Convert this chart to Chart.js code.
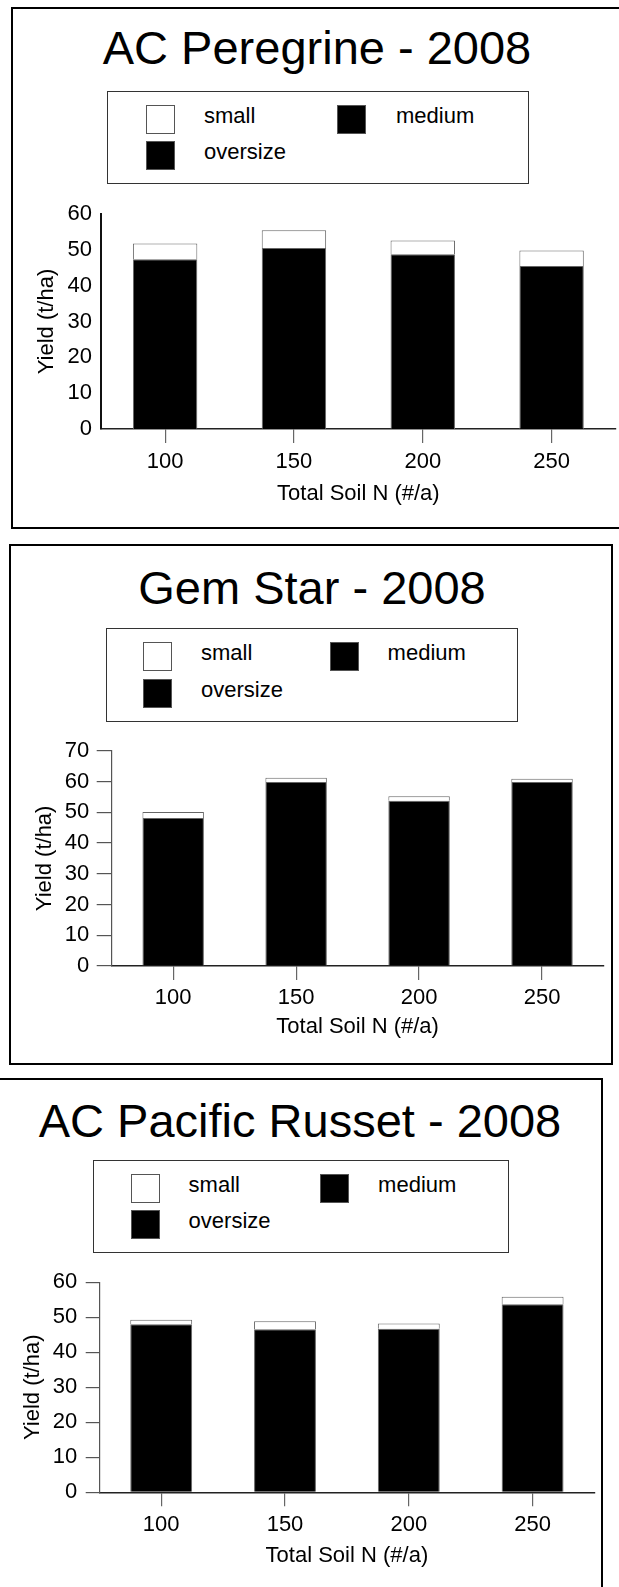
<!DOCTYPE html>
<html lang="en">
<head>
<meta charset="UTF-8">
<title>Yield vs Total Soil N - 2008</title>
<script src="https://cdn.jsdelivr.net/npm/chart.js@4"></script>
<style>
  body { margin: 0; background: #fff; font-family: 'Liberation Sans', Arial, sans-serif; color: #000; }
  #page { position: relative; width: 619px; height: 1587px; overflow: hidden; }
  .panel { position: absolute; border: 2px solid #000; box-sizing: border-box; }
  .title { position: absolute; left: 0; text-align: center; font-size: 47px; line-height: 47px; white-space: nowrap; }
  .legend { position: absolute; border: 1px solid #333; box-sizing: border-box; }
  .sw { position: absolute; width: 29px; height: 29px; box-sizing: border-box; border: 1px solid #555; }
  .lt { position: absolute; font-size: 22px; line-height: 22px; white-space: nowrap; }
  canvas { position: absolute; }
</style>
</head>
<body>
<div id="page"></div>

<script>
  // data (t/ha)
  const soilN = ['100', '150', '200', '250'];
  const sizeClasses = ['small', 'medium', 'oversize'];

  const peregrineSmall    = [4.4, 5.0, 3.8, 4.3];
  const peregrineMedium   = [47.4, 50.5, 48.8, 45.5];
  const peregrineOversize = [0, 0, 0, 0];

  const gemStarSmall    = [2.0, 1.4, 1.5, 1.1];
  const gemStarMedium   = [48.1, 59.8, 53.7, 59.8];
  const gemStarOversize = [0, 0, 0, 0];

  const russetSmall    = [1.3, 2.3, 1.5, 2.2];
  const russetMedium   = [48.0, 46.6, 46.7, 53.7];
  const russetOversize = [0, 0, 0, 0];

  const peregrineYMax = 60;
  const gemStarYMax = 70;
  const russetYMax = 60;
  const yStep = 10;

  const yTitle = 'Yield (t/ha)';
  const xTitle = 'Total Soil N (#/a)';

  Chart.defaults.font.family = "'Liberation Sans', Arial, sans-serif";
  Chart.defaults.color = '#000';

  const fills = { small: '#fff', medium: '#000', oversize: '#000' };

  const panels = [
    {
      title: 'AC Peregrine - 2008', titleCx: 317, titleTop: 24,
      box: [11, 7, 630, 522],
      legend: [107, 90.7, 421.7, 93.6], legX: [38.7, 97, 229.7, 289], legY: [14.7, 50],
      canvas: [20, 186, 599, 325],
      yWidth: 80.7, xHeight: 82, padTop: 28, padRight: 3,
      yTitlePad: 13.5, yTickLen: 0, yTickPad: 8.7, yBorder: 2, yBorderColor: '#111',
      xTickPad: 5.8, xTitlePad: 4.3,
      small: peregrineSmall, medium: peregrineMedium, oversize: peregrineOversize, yMax: peregrineYMax
    },
    {
      title: 'Gem Star - 2008', titleCx: 312, titleTop: 564,
      box: [9, 544, 604, 521],
      legend: [106, 628, 412.3, 93.7], legX: [37.4, 95, 224, 281.6], legY: [14, 51],
      canvas: [20, 722, 588, 322],
      yWidth: 91.7, xHeight: 78, padTop: 28.7, padRight: 4.5,
      yTitlePad: 11.8, yTickLen: 15, yTickPad: 7.4, yBorder: 1.2, yBorderColor: '#555',
      xTickPad: 4.8, xTitlePad: 3.8,
      small: gemStarSmall, medium: gemStarMedium, oversize: gemStarOversize, yMax: gemStarYMax
    },
    {
      title: 'AC Pacific Russet - 2008', titleCx: 300, titleTop: 1097,
      box: [-5, 1078, 608, 600],
      legend: [93.3, 1159.7, 415.7, 93.6], legX: [38, 95.3, 226.6, 284.8], legY: [14.3, 50],
      canvas: [10, 1254, 590, 320],
      yWidth: 89.3, xHeight: 81.7, padTop: 28.3, padRight: 5.5,
      yTitlePad: 10.1, yTickLen: 13.6, yTickPad: 8.4, yBorder: 1.2, yBorderColor: '#555',
      xTickPad: 5.8, xTitlePad: 4.5,
      small: russetSmall, medium: russetMedium, oversize: russetOversize, yMax: russetYMax
    }
  ];

  const page = document.getElementById('page');

  function el(cls, left, top, w, h) {
    const d = document.createElement('div');
    d.className = cls;
    d.style.left = left + 'px';
    d.style.top = top + 'px';
    if (w != null) d.style.width = w + 'px';
    if (h != null) d.style.height = h + 'px';
    return d;
  }

  panels.forEach(function (p) {
    const b = el('panel', p.box[0], p.box[1], p.box[2], p.box[3]);
    page.appendChild(b);

    const t = el('title', 0, p.titleTop, p.titleCx * 2);
    t.textContent = p.title;
    page.appendChild(t);

    // legend box: small | medium on first row, oversize below
    const lg = el('legend', p.legend[0], p.legend[1], p.legend[2], p.legend[3]);
    page.appendChild(lg);
    sizeClasses.forEach(function (name, i) {
      const col = i % 2, row = Math.floor(i / 2);
      const x = p.legend[0] + p.legX[col * 2];
      const tx = p.legend[0] + p.legX[col * 2 + 1];
      const y = p.legend[1] + p.legY[row];
      const sw = el('sw', x, y);
      sw.style.background = fills[name];
      page.appendChild(sw);
      const lt = el('lt', tx, y);
      lt.textContent = name;
      page.appendChild(lt);
    });

    const c = document.createElement('canvas');
    c.width = p.canvas[2];
    c.height = p.canvas[3];
    c.style.left = p.canvas[0] + 'px';
    c.style.top = p.canvas[1] + 'px';
    page.appendChild(c);

    new Chart(c, {
      type: 'bar',
      data: {
        labels: soilN,
        datasets: [
          { label: 'oversize', data: p.oversize, backgroundColor: fills.oversize, borderWidth: 0 },
          { label: 'medium', data: p.medium, backgroundColor: fills.medium, borderColor: '#666', borderWidth: 1 },
          { label: 'small', data: p.small, backgroundColor: fills.small, borderColor: '#666', borderWidth: 1 }
        ]
      },
      options: {
        responsive: false,
        animation: false,
        devicePixelRatio: 1,
        barPercentage: 0.5,
        categoryPercentage: 1,
        layout: { padding: { top: p.padTop, right: p.padRight, left: 0, bottom: 0 } },
        plugins: { legend: { display: false }, tooltip: { enabled: false } },
        scales: {
          x: {
            stacked: true,
            grid: { display: true, drawOnChartArea: false, offset: false, drawTicks: true, tickLength: 14, color: '#666', lineWidth: 1.2 },
            border: { display: true, color: '#222', width: 1.5 },
            ticks: { font: { size: 22 }, padding: p.xTickPad, color: '#000' },
            title: { display: true, text: xTitle, font: { size: 22 }, padding: { top: 0, bottom: p.xTitlePad } },
            afterFit: function (s) { s.height = p.xHeight; }
          },
          y: {
            stacked: true,
            min: 0,
            max: p.yMax,
            grid: { display: p.yTickLen > 0, drawOnChartArea: false, drawTicks: p.yTickLen > 0, tickLength: p.yTickLen, color: '#555', lineWidth: 1.2 },
            border: { display: true, color: p.yBorderColor, width: p.yBorder },
            ticks: { stepSize: yStep, font: { size: 22 }, padding: p.yTickPad, color: '#000' },
            title: { display: true, text: yTitle, font: { size: 22 }, padding: { top: p.yTitlePad, bottom: 0 } },
            afterFit: function (s) { s.width = p.yWidth; }
          }
        }
      }
    });
  });
</script>
</body>
</html>
